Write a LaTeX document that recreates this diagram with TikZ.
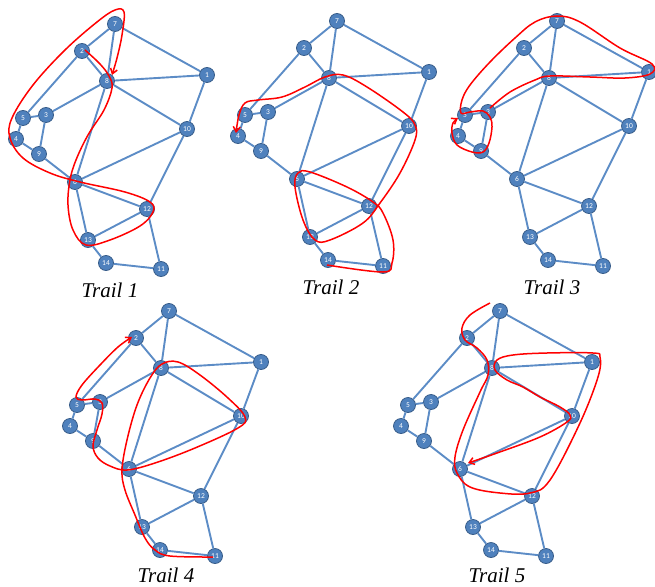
\documentclass[tikz,border=0pt]{standalone}
\usepackage{fontspec}
\setmainfont{Liberation Serif}
\newfontfamily\nodefont{Carlito}
\usetikzlibrary{arrows.meta}
\definecolor{nodeblue}{RGB}{79,129,189}
\definecolor{nodeedge}{RGB}{56,93,138}
\definecolor{edgeblue}{RGB}{92,140,198}
\tikzset{
 vtx/.style={circle, fill=nodeblue, draw=nodeedge, line width=0.8pt, minimum size=15pt, inner sep=0pt, text=white, font=\nodefont\fontsize{7.5}{8}\selectfont},
 edg/.style={draw=edgeblue, line width=1.9pt},
 trail/.style={draw=red, line width=1.5pt},
 tip/.style={-{Straight Barb[length=5pt,width=7pt]}},
 caption/.style={anchor=base, inner sep=0pt, font=\itshape\fontsize{21}{24}\selectfont}
}
\newcommand\graphpanel[2]{%
 \begin{scope}[shift={#2}]
 \node[vtx] (#1n1) at (207,75) {1};
 \node[vtx] (#1n2) at (82,51) {2};
 \node[vtx] (#1n3) at (46,115) {3};
 \node[vtx] (#1n4) at (16,139) {4};
 \node[vtx] (#1n5) at (23,118) {5};
 \node[vtx] (#1n6) at (75,182) {6};
 \node[vtx] (#1n7) at (115,24) {7};
 \node[vtx] (#1n8) at (107,81) {8};
 \node[vtx] (#1n9) at (39,154) {9};
 \node[vtx] (#1n10) at (187,129) {10};
 \node[vtx] (#1n11) at (161,269) {11};
 \node[vtx] (#1n12) at (147,209) {12};
 \node[vtx] (#1n13) at (88,240) {13};
 \node[vtx] (#1n14) at (106,263) {14};
 \path[edg] (#1n7)--(#1n2) (#1n7)--(#1n8) (#1n7)--(#1n1) (#1n2)--(#1n8) (#1n2)--(#1n5)
  (#1n8)--(#1n1) (#1n8)--(#1n3) (#1n8)--(#1n10) (#1n8)--(#1n6) (#1n1)--(#1n10)
  (#1n5)--(#1n3) (#1n5)--(#1n4) (#1n3)--(#1n9) (#1n4)--(#1n9) (#1n9)--(#1n6)
  (#1n6)--(#1n10) (#1n6)--(#1n12) (#1n6)--(#1n13) (#1n10)--(#1n12) (#1n12)--(#1n13)
  (#1n12)--(#1n11) (#1n13)--(#1n14) (#1n14)--(#1n11);
 \end{scope}}
\begin{document}
\begin{tikzpicture}[x=1pt,y=-1pt]
\useasboundingbox (0,0) rectangle (655,586);
\graphpanel{a}{(0,0)}
\graphpanel{b}{(222,-3)}
\graphpanel{c}{(442,-3)}
\graphpanel{d}{(54,287)}
\graphpanel{e}{(385,287)}
\node[caption] (capa) at (110,297) {Trail 1};
\node[caption] (capb) at (331,294) {Trail 2};
\node[caption] (capc) at (552,294) {Trail 3};
\node[caption] (capd) at (166,582) {Trail 4};
\node[caption] (cape) at (497,582) {Trail 5};
% Trail 1
\draw[trail,tip] plot[smooth,tension=0.6] coordinates {(85,50) (100,64) (109,76) (112,88) (104,110) (88,135) (76,160) (70,180) (68,205) (73,230) (86,245) (110,240) (140,226) (153,212) (150,202) (125,192) (80,182) (50,173) (23,158) (10,138) (12,118) (33,85) (65,50) (97,22) (115,10) (124,12) (122,35) (117,58) (112,75)};
% Trail 2
\draw[trail,tip] plot[smooth,tension=0.6] coordinates {(327,265) (383,272) (392,263) (393,240) (383,213) (373,202) (347,187) (310,172) (298,173) (295,187) (303,220) (315,240) (330,240) (363,223) (380,203) (400,173) (415,140) (415,125) (403,112) (367,87) (343,75) (325,77) (305,87) (282,97) (258,100) (245,103) (239,115) (236,133)};
% Trail 3
\draw[trail,tip] plot[smooth,tension=0.6] coordinates {(490,108) (510,92) (535,80) (550,76) (590,77) (625,78) (650,74) (652,64) (620,48) (580,22) (557,16) (535,22) (515,38) (490,62) (470,85) (462,100) (461,113) (470,112) (483,111) (490,117) (492,127) (489,143) (483,152) (472,152) (457,145) (452,133) (453,123) (458,118)};
% Trail 4
\draw[trail,tip] plot[smooth,tension=0.6] coordinates {(213,557) (170,556) (155,550) (145,538) (135,515) (125,490) (122,470) (127,440) (137,405) (150,378) (162,364) (178,362) (200,375) (228,398) (245,417) (238,428) (195,448) (155,463) (127,470) (110,466) (98,458) (93,446) (97,430) (102,414) (102,403) (95,399) (82,400) (76,397) (82,385) (100,365) (118,347) (132,337)};
% Trail 5
\draw[trail,tip] plot[smooth,tension=0.6] coordinates {(490,303) (470,315) (462,328) (465,340) (477,348) (487,360) (488,375) (480,392) (463,430) (455,457) (457,473) (470,487) (500,493) (530,493) (550,480) (580,423) (598,377) (600,357) (593,353) (547,353) (513,355) (497,360) (495,370) (507,380) (523,387) (540,397) (560,407) (570,415) (567,422) (540,437) (497,453) (468,463)};
\end{tikzpicture}
\end{document}
